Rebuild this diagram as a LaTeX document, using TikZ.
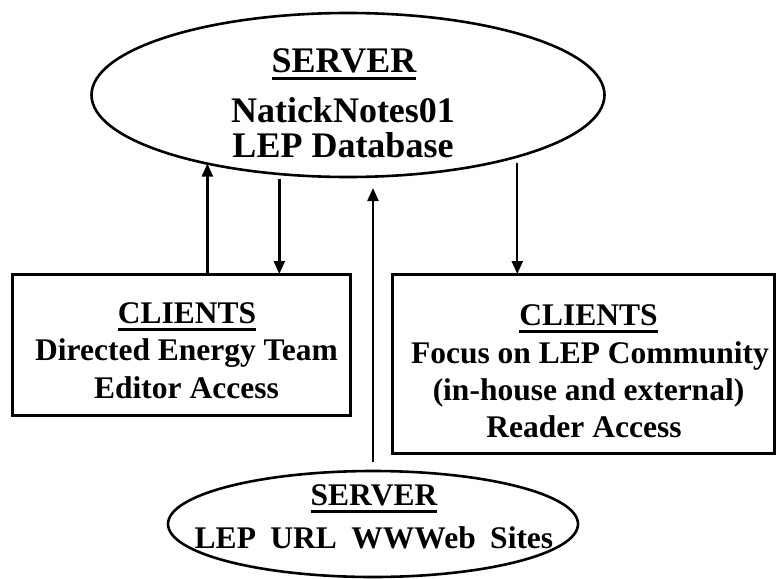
\documentclass[tikz,border=0pt]{standalone}
\usepackage{fontspec}
\setmainfont{Liberation Serif}
\usetikzlibrary{arrows.meta,shapes.geometric}
\newcommand{\myul}[1]{\setbox0\hbox{#1}\rlap{\rule[-7.5pt]{\wd0}{2.5pt}}\box0}
\begin{document}
\begin{tikzpicture}[x=1pt,y=-1pt,
  shp/.style={draw, line width=2.6pt, inner sep=0pt, outer sep=0pt},
  ell/.style={shp, ellipse},
  box/.style={shp, rectangle, line width=3pt},
  big/.style={font=\fontsize{36}{36}\selectfont\bfseries, anchor=base, inner sep=0pt},
  txt/.style={font=\fontsize{31.5}{31.5}\selectfont\bfseries, anchor=base, inner sep=0pt},
  arr/.style={line width=2.4pt, -{Triangle[width=11pt,length=13pt]}}]
\useasboundingbox (0,0) rectangle (776,578);
\fill[white] (0,0) rectangle (776,578);
% shapes
\node[ell, minimum width=513pt, minimum height=164pt] (srv) at (348,95) {};
\node[box, minimum width=338pt, minimum height=141pt] (lbox) at (181,344.5) {};
\node[box, minimum width=382pt, minimum height=179pt] (rbox) at (583,363.5) {};
\node[ell, minimum width=410pt, minimum height=106pt] (web) at (373,524) {};
% top server text
\node[big] (s1) at (344,72) {\myul{SERVER}};
\node[big] (s2) at (343,122) {NatickNotes01};
\node[big] (s3) at (343,157) {LEP Database};
% left clients text
\node[txt] (l1) at (187,323) {\myul{CLIENTS}};
\node[txt] (l2) at (186.5,360) {Directed Energy Team};
\node[txt] (l3) at (186.5,398) {Editor Access};
% right clients text
\node[txt] (r1) at (588.5,325) {\myul{CLIENTS}};
\node[txt] (r2) at (590,363) {Focus on LEP Community};
\node[txt] (r3) at (588.5,400) {(in-house and external)};
\node[txt] (r4) at (584,437) {Reader Access};
% bottom server text
\node[txt] (w1) at (374,505) {\myul{SERVER}};
\node[txt] (w2) at (374,548) {LEP\hspace{14.5pt}URL\hspace{14.5pt}WWWeb\hspace{14.5pt}Sites};
% connectors
\draw[arr] (srv.206 |- lbox.north) -- (srv.206);
\draw[arr] ([yshift=-5pt]srv.229) -- (srv.229 |- lbox.north);
\draw[arr] ([yshift=-6pt]srv.340) -- (srv.340 |- rbox.north);
\draw[arr] ([yshift=9pt]web.north) -- ([yshift=-11pt]web.north |- srv.south);
\end{tikzpicture}
\end{document}
